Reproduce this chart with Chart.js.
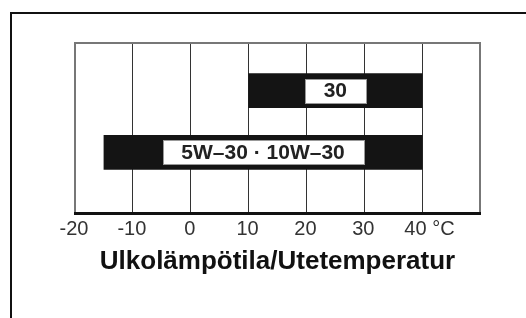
<!DOCTYPE html>
<html>
<head>
<meta charset="utf-8">
<style>
  body { margin: 0; background: #fff; }
  #frame {
    position: absolute;
    left: 10px;
    top: 12px;
    width: 600px;
    height: 400px;
    border-left: 2px solid #111;
    border-top: 2px solid #111;
  }
  #chart { position: absolute; left: 0; top: 0; }
</style>
</head>
<body>
<div id="frame"></div>
<canvas id="chart" width="526" height="318"></canvas>
<script src="https://cdn.jsdelivr.net/npm/chart.js@4.4.0/dist/chart.umd.min.js"></script>
<script>
  // chart data
  let oilGrades = ['30', '5W\u201330 \u00b7 10W\u201330'];
  let tempFrom = [10, -15];
  let tempTo = [40, 40];
  let rowPos = [1, 2];
  let tickLabels = ['-20', '-10', '0', '10', '20', '30', '40 \u00b0C', ''];
  let axisTitle = 'Ulkolämpötila/Utetemperatur';

  let chartFont = 'Liberation Sans, Arial, sans-serif';

  // white boxes with the grade name on each bar
  let gradeLabels = {
    id: 'gradeLabels',
    afterDatasetsDraw(chart) {
      let ctx = chart.ctx;
      let meta = chart.getDatasetMeta(0);
      ctx.save();
      ctx.font = 'bold 21px ' + chartFont;
      meta.data.forEach((bar, i) => {
        let p = bar.getProps(['x', 'y', 'base', 'height'], true);
        let cx = (p.x + p.base) / 2;
        let w = Math.round(ctx.measureText(oilGrades[i]).width + 38);
        let h = p.height - 10;
        let left = Math.round(cx - w / 2) + 0.5;
        let top = Math.round(p.y - h / 2) + 0.5;
        ctx.fillStyle = '#fff';
        ctx.fillRect(left, top, w, h);
        ctx.strokeStyle = '#999';
        ctx.lineWidth = 1;
        ctx.strokeRect(left, top, w, h);
        ctx.fillStyle = '#222';
        ctx.textAlign = 'center';
        ctx.textBaseline = 'middle';
        ctx.fillText(oilGrades[i], cx, p.y + 1);
      });
      ctx.restore();
    }
  };

  let edge = (c) => c.tick && (c.tick.value === -20 || c.tick.value === 50);

  new Chart(document.getElementById('chart').getContext('2d'), {
    type: 'bar',
    data: {
      datasets: [{
        data: rowPos.map((r, i) => ({ x: [tempFrom[i], tempTo[i]], y: r })),
        backgroundColor: '#141414',
        borderWidth: 0,
        barThickness: 34,
      }],
    },
    options: {
      indexAxis: 'y',
      responsive: false,
      animation: false,
      layout: { padding: { left: 75, right: 46, top: 43, bottom: 43 } },
      scales: {
        x: {
          type: 'linear',
          min: -20,
          max: 50,
          border: { display: true, color: '#111', width: 3 },
          grid: {
            drawTicks: false,
            color: (c) => edge(c) ? '#777' : '#333',
            lineWidth: (c) => edge(c) ? 2 : 1,
          },
          ticks: {
            stepSize: 10,
            padding: 4,
            labelOffset: -1,
            maxRotation: 0,
            minRotation: 0,
            autoSkip: false,
            color: '#333',
            font: { family: chartFont, size: 20 },
            callback: (v, i) => (i === 6 ? '   ' : '') + tickLabels[i],
          },
        },
        x2: {
          type: 'linear',
          position: 'top',
          min: -20,
          max: 50,
          border: { display: true, color: '#777', width: 2 },
          grid: { display: false, drawTicks: false },
          ticks: { display: false },
        },
        y: {
          type: 'linear',
          reverse: true,
          offset: false,
          grace: 0,
          bounds: 'data',
          min: 0.23,
          max: 2.98,
          display: false,
        },
      },
      plugins: {
        legend: { display: false },
        tooltip: { enabled: false },
        title: {
          display: true,
          position: 'bottom',
          text: axisTitle,
          color: '#111',
          padding: { top: 4, bottom: 0 },
          font: { family: chartFont, size: 26, weight: 'bold', lineHeight: 1 },
        },
      },
    },
    plugins: [gradeLabels],
  });
</script>
</body>
</html>
